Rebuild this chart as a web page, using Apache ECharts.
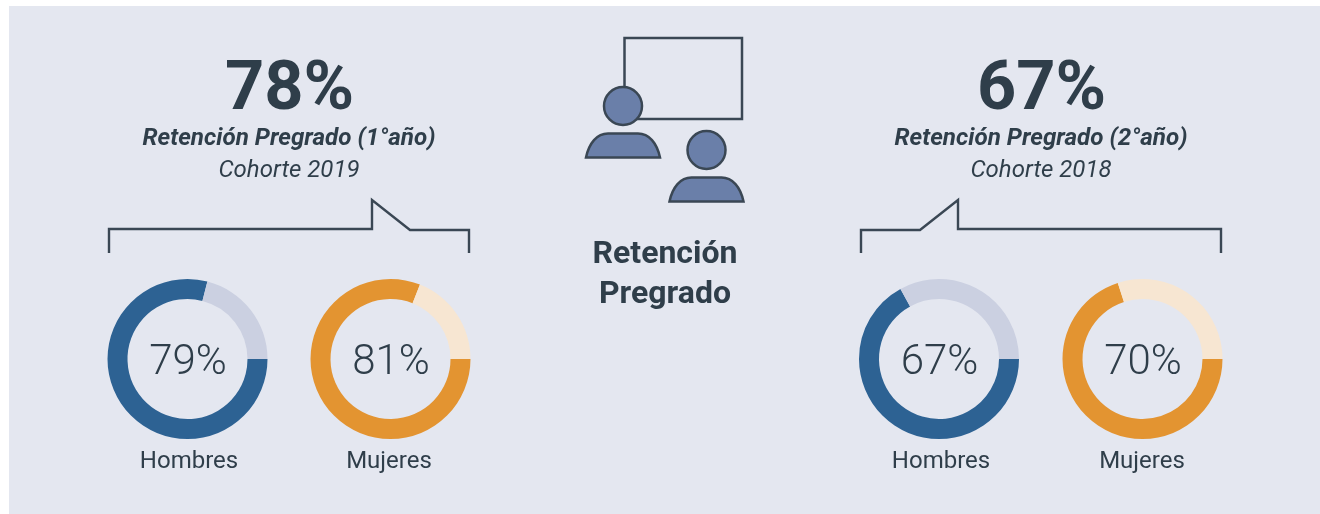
<!DOCTYPE html>
<html>
<head>
<meta charset="utf-8">
<style>
  html, body { margin: 0; padding: 0; background: #fff; }
  #eCharts { width: 1320px; height: 514px; }
</style>
<script src="https://cdn.jsdelivr.net/npm/echarts@6/dist/echarts.min.js"></script>
</head>
<body>
<div id="eCharts"></div>
<script>
var myChart = echarts.init(document.getElementById('eCharts'));

// values
var groups = ['Hombres', 'Mujeres', 'Hombres', 'Mujeres'];
var retained = [79, 81, 67, 70];
var remaining = [21, 19, 33, 30];
var totals = ['78%', '67%'];
var titles = ['Retención Pregrado (1°año)', 'Retención Pregrado (2°año)'];
var cohorts = ['Cohorte 2019', 'Cohorte 2018'];

var centerX = [187.5, 390.5, 939, 1142.5];
var groupX = [189, 389, 941, 1142];
var panelCenterX = [289, 1041];
var dark = '#2f3e4a';
var line = '#3a4754';
var iconFill = '#6a7fa9';
var ringColors = [['#2d6293', '#cbd0e1'], ['#e39431', '#f7e6d2'], ['#2d6293', '#cbd0e1'], ['#e39431', '#f7e6d2']];
var font = 'Roboto';

// torso of the person icon
echarts.graphic.registerShape('personBody', echarts.graphic.extendShape({
    shape: {dx: 0, dy: 0},
    buildPath: function (ctx, shape) {
        var x = shape.dx, y = shape.dy;
        ctx.moveTo(586 + x, 157.5 + y);
        ctx.bezierCurveTo(589 + x, 143 + y, 597 + x, 133.5 + y, 608 + x, 133.5 + y);
        ctx.lineTo(638 + x, 133.5 + y);
        ctx.bezierCurveTo(649 + x, 133.5 + y, 657 + x, 143 + y, 660 + x, 157.5 + y);
        ctx.closePath();
    }
}));

function text(x, y, str, size, weight, style) {
    return {
        type: 'text',
        x: x,
        y: y,
        silent: true,
        style: {
            text: str,
            fill: dark,
            align: 'center',
            verticalAlign: 'middle',
            fontFamily: font,
            fontSize: size,
            fontWeight: weight,
            fontStyle: style || 'normal'
        }
    };
}

function bracket(points) {
    return {
        type: 'polyline',
        silent: true,
        shape: {points: points},
        style: {stroke: line, lineWidth: 2.4, fill: null}
    };
}

function person(dx, dy) {
    return [
        {
            type: 'personBody',
            silent: true,
            shape: {dx: dx, dy: dy},
            style: {fill: iconFill, stroke: line, lineWidth: 2.5}
        },
        {
            type: 'circle',
            silent: true,
            shape: {cx: 623 + dx, cy: 106 + dy, r: 19},
            style: {fill: iconFill, stroke: line, lineWidth: 2.5}
        }
    ];
}

var graphics = [
    {
        type: 'rect',
        silent: true,
        z: -10,
        shape: {x: 9, y: 6, width: 1311, height: 508},
        style: {fill: '#e4e7f0'}
    },
    bracket([[109, 253], [109, 229], [372, 229], [372, 200], [410, 230], [469, 230], [469, 253]]),
    bracket([[861, 253], [861, 230], [920, 230], [958, 200], [958, 229], [1221, 229], [1221, 253]]),
    {
        type: 'rect',
        silent: true,
        shape: {x: 624.5, y: 38, width: 117.5, height: 81},
        style: {fill: 'transparent', stroke: line, lineWidth: 2.5}
    }
].concat(person(0, 0), person(83.5, 44));

graphics.push(text(665, 255, 'Retención', 32, 700));
graphics.push(text(665, 295, 'Pregrado', 32, 700));

for (var i = 0; i < totals.length; i++) {
    graphics.push(text(panelCenterX[i] + 0.5, 92, totals[i], 68.5, 700));
    graphics.push(text(panelCenterX[i], 139, titles[i], 24.2, 700, 'italic'));
    graphics.push(text(panelCenterX[i], 171, cohorts[i], 24, 400, 'italic'));
}

var series = [];
for (var j = 0; j < retained.length; j++) {
    graphics.push(text(groupX[j], 462, groups[j], 24, 400));
    series.push({
        type: 'pie',
        silent: true,
        center: [centerX[j], 359],
        radius: [60, 80],
        startAngle: 0,
        clockwise: true,
        animation: false,
        labelLine: {show: false},
        itemStyle: {borderWidth: 0},
        data: [
            {
                value: retained[j],
                itemStyle: {color: ringColors[j][0]},
                label: {
                    show: true,
                    position: 'center',
                    formatter: retained[j] + '%',
                    offset: [0.5, 4],
                    color: dark,
                    fontFamily: font,
                    fontSize: 42,
                    fontWeight: 300
                }
            },
            {
                value: remaining[j],
                itemStyle: {color: ringColors[j][1]},
                label: {show: false}
            }
        ]
    });
}

var option = {
    animation: false,
    backgroundColor: '#fff',
    graphic: graphics,
    series: series
};
myChart.setOption(option);
</script>
</body>
</html>
